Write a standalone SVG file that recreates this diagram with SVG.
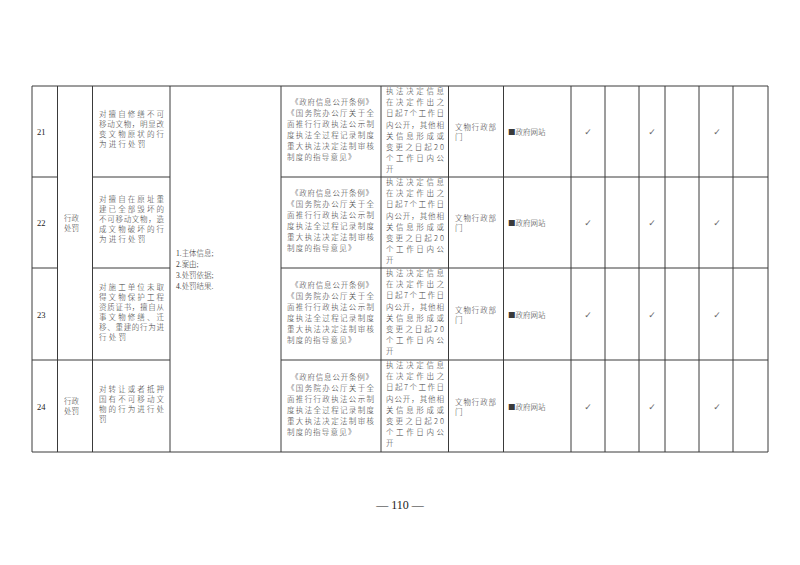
<svg xmlns="http://www.w3.org/2000/svg" width="800" height="565" viewBox="0 0 800 565">
<style>
.bg{fill:#ffffff}
.grid line{stroke:#3a3a3a;stroke-width:1}
.t{font-family:"Liberation Serif","Noto Sans CJK SC",serif;font-size:7.5px;fill:#3a3a3a;font-weight:300}
.c{font-family:"Noto Sans CJK SC","Liberation Serif",sans-serif;font-size:7.5px;fill:#3a3a3a;font-weight:300}
.n{font-family:"Liberation Serif","Noto Sans CJK SC",serif;font-size:8.5px;fill:#222}
.k{font-family:"DejaVu Sans","Noto Sans CJK SC",sans-serif;font-size:9px;fill:#666}
.pg{font-family:"Liberation Serif","Noto Sans CJK SC",serif;font-size:12px;fill:#222}
</style>
<rect class="bg" x="0" y="0" width="800" height="565"/>

<g id="grid" class="grid">
  <line x1="32" y1="86" x2="768" y2="86"/>
  <line x1="32" y1="177" x2="57.5" y2="177"/>
  <line x1="92.5" y1="177" x2="170" y2="177"/>
  <line x1="281" y1="177" x2="768" y2="177"/>
  <line x1="32" y1="268" x2="57.5" y2="268"/>
  <line x1="92.5" y1="268" x2="170" y2="268"/>
  <line x1="281" y1="268" x2="768" y2="268"/>
  <line x1="32" y1="360" x2="170" y2="360"/>
  <line x1="281" y1="360" x2="768" y2="360"/>
  <line x1="32" y1="452" x2="768" y2="452"/>
  <line x1="32" y1="86" x2="32" y2="452"/>
  <line x1="57.5" y1="86" x2="57.5" y2="452"/>
  <line x1="92.5" y1="86" x2="92.5" y2="452"/>
  <line x1="170" y1="86" x2="170" y2="452"/>
  <line x1="281" y1="86" x2="281" y2="452"/>
  <line x1="381" y1="86" x2="381" y2="452"/>
  <line x1="448.5" y1="86" x2="448.5" y2="452"/>
  <line x1="503.5" y1="86" x2="503.5" y2="452"/>
  <line x1="571" y1="86" x2="571" y2="452"/>
  <line x1="605" y1="86" x2="605" y2="452"/>
  <line x1="639" y1="86" x2="639" y2="452"/>
  <line x1="665" y1="86" x2="665" y2="452"/>
  <line x1="699" y1="86" x2="699" y2="452"/>
  <line x1="733" y1="86" x2="733" y2="452"/>
  <line x1="768" y1="86" x2="768" y2="452"/>
</g>

<g id="merged">
  <text class="c" x="64" y="221">行政</text>
  <text class="c" x="64" y="231">处罚</text>
  <text class="t" x="176" y="256">1.主体信息;</text>
  <text class="t" x="176" y="267">2.案由;</text>
  <text class="t" x="176" y="278">3.处罚依据;</text>
  <text class="t" x="176" y="289">4.处罚结果.</text>
</g>

<g id="row21">
  <text class="n" x="37" y="135">21</text>
  <text class="c" x="99" y="117" textLength="65" lengthAdjust="spacing">对擅自修缮不可</text>
  <text class="c" x="99" y="127" textLength="65" lengthAdjust="spacing">移动文物，明显改</text>
  <text class="c" x="99" y="137" textLength="65" lengthAdjust="spacing">变文物原状的行</text>
  <text class="c" x="99" y="147" letter-spacing="2.2">为进行处罚</text>
  <text class="c" x="291" y="105" textLength="82" lengthAdjust="spacing">《政府信息公开条例》</text>
  <text class="c" x="287" y="116" textLength="87" lengthAdjust="spacing">《国务院办公厅关于全</text>
  <text class="c" x="287" y="127" textLength="87" lengthAdjust="spacing">面推行行政执法公示制</text>
  <text class="c" x="287" y="138" textLength="87" lengthAdjust="spacing">度执法全过程记录制度</text>
  <text class="c" x="287" y="149" textLength="87" lengthAdjust="spacing">重大执法决定法制审核</text>
  <text class="c" x="287" y="160" letter-spacing="1.2">制度的指导意见》</text>
  <text class="c" x="386" y="94" textLength="58" lengthAdjust="spacing">执法决定信息</text>
  <text class="c" x="386" y="105.2" textLength="58" lengthAdjust="spacing">在决定作出之</text>
  <text class="c" x="386" y="116.4" textLength="58" lengthAdjust="spacing">日起7个工作日</text>
  <text class="c" x="386" y="127.6" textLength="58" lengthAdjust="spacing">内公开，其他相</text>
  <text class="c" x="386" y="138.8" textLength="58" lengthAdjust="spacing">关信息形成或</text>
  <text class="c" x="386" y="150" textLength="58" lengthAdjust="spacing">变更之日起20</text>
  <text class="c" x="386" y="161.2" textLength="58" lengthAdjust="spacing">个工作日内公</text>
  <text class="c" x="386" y="172.4">开</text>
  <text class="c" x="455" y="130" textLength="41" lengthAdjust="spacing">文物行政部</text>
  <text class="c" x="455" y="140">门</text>
  <text class="c" x="508" y="135">■政府网站</text>
  <text class="k" x="588" y="135" text-anchor="middle">✓</text>
  <text class="k" x="652" y="135" text-anchor="middle">✓</text>
  <text class="k" x="717" y="135" text-anchor="middle">✓</text>
</g>

<g id="row22">
  <text class="n" x="37" y="226">22</text>
  <text class="c" x="99" y="202" textLength="65" lengthAdjust="spacing">对擅自在原址重</text>
  <text class="c" x="99" y="212" textLength="65" lengthAdjust="spacing">建已全部毁坏的</text>
  <text class="c" x="99" y="222" textLength="65" lengthAdjust="spacing">不可移动文物，造</text>
  <text class="c" x="99" y="232" textLength="65" lengthAdjust="spacing">成文物破坏的行</text>
  <text class="c" x="99" y="242" letter-spacing="2.2">为进行处罚</text>
  <text class="c" x="291" y="196" textLength="82" lengthAdjust="spacing">《政府信息公开条例》</text>
  <text class="c" x="287" y="207" textLength="87" lengthAdjust="spacing">《国务院办公厅关于全</text>
  <text class="c" x="287" y="218" textLength="87" lengthAdjust="spacing">面推行行政执法公示制</text>
  <text class="c" x="287" y="229" textLength="87" lengthAdjust="spacing">度执法全过程记录制度</text>
  <text class="c" x="287" y="240" textLength="87" lengthAdjust="spacing">重大执法决定法制审核</text>
  <text class="c" x="287" y="251" letter-spacing="1.2">制度的指导意见》</text>
  <text class="c" x="386" y="185" textLength="58" lengthAdjust="spacing">执法决定信息</text>
  <text class="c" x="386" y="196.2" textLength="58" lengthAdjust="spacing">在决定作出之</text>
  <text class="c" x="386" y="207.4" textLength="58" lengthAdjust="spacing">日起7个工作日</text>
  <text class="c" x="386" y="218.6" textLength="58" lengthAdjust="spacing">内公开，其他相</text>
  <text class="c" x="386" y="229.8" textLength="58" lengthAdjust="spacing">关信息形成或</text>
  <text class="c" x="386" y="241" textLength="58" lengthAdjust="spacing">变更之日起20</text>
  <text class="c" x="386" y="252.2" textLength="58" lengthAdjust="spacing">个工作日内公</text>
  <text class="c" x="386" y="263.4">开</text>
  <text class="c" x="455" y="221" textLength="41" lengthAdjust="spacing">文物行政部</text>
  <text class="c" x="455" y="231">门</text>
  <text class="c" x="508" y="226">■政府网站</text>
  <text class="k" x="588" y="226" text-anchor="middle">✓</text>
  <text class="k" x="652" y="226" text-anchor="middle">✓</text>
  <text class="k" x="717" y="226" text-anchor="middle">✓</text>
</g>

<g id="row23">
  <text class="n" x="37" y="318">23</text>
  <text class="c" x="99" y="289.5" textLength="65" lengthAdjust="spacing">对施工单位未取</text>
  <text class="c" x="99" y="299.5" textLength="65" lengthAdjust="spacing">得文物保护工程</text>
  <text class="c" x="99" y="309.5" textLength="65" lengthAdjust="spacing">资质证书，擅自从</text>
  <text class="c" x="99" y="319.5" textLength="65" lengthAdjust="spacing">事文物修缮、迁</text>
  <text class="c" x="99" y="329.5" textLength="65" lengthAdjust="spacing">移、重建的行为进</text>
  <text class="c" x="99" y="339.5" letter-spacing="2.2">行处罚</text>
  <text class="c" x="291" y="288" textLength="82" lengthAdjust="spacing">《政府信息公开条例》</text>
  <text class="c" x="287" y="299" textLength="87" lengthAdjust="spacing">《国务院办公厅关于全</text>
  <text class="c" x="287" y="310" textLength="87" lengthAdjust="spacing">面推行行政执法公示制</text>
  <text class="c" x="287" y="321" textLength="87" lengthAdjust="spacing">度执法全过程记录制度</text>
  <text class="c" x="287" y="332" textLength="87" lengthAdjust="spacing">重大执法决定法制审核</text>
  <text class="c" x="287" y="343" letter-spacing="1.2">制度的指导意见》</text>
  <text class="c" x="386" y="276" textLength="58" lengthAdjust="spacing">执法决定信息</text>
  <text class="c" x="386" y="287.2" textLength="58" lengthAdjust="spacing">在决定作出之</text>
  <text class="c" x="386" y="298.4" textLength="58" lengthAdjust="spacing">日起7个工作日</text>
  <text class="c" x="386" y="309.6" textLength="58" lengthAdjust="spacing">内公开，其他相</text>
  <text class="c" x="386" y="320.8" textLength="58" lengthAdjust="spacing">关信息形成或</text>
  <text class="c" x="386" y="332" textLength="58" lengthAdjust="spacing">变更之日起20</text>
  <text class="c" x="386" y="343.2" textLength="58" lengthAdjust="spacing">个工作日内公</text>
  <text class="c" x="386" y="354.4">开</text>
  <text class="c" x="455" y="313" textLength="41" lengthAdjust="spacing">文物行政部</text>
  <text class="c" x="455" y="323">门</text>
  <text class="c" x="508" y="318">■政府网站</text>
  <text class="k" x="588" y="318" text-anchor="middle">✓</text>
  <text class="k" x="652" y="318" text-anchor="middle">✓</text>
  <text class="k" x="717" y="318" text-anchor="middle">✓</text>
</g>

<g id="row24">
  <text class="n" x="37" y="410">24</text>
  <text class="c" x="64" y="404">行政</text>
  <text class="c" x="64" y="414">处罚</text>
  <text class="c" x="99" y="391.5" textLength="65" lengthAdjust="spacing">对转让或者抵押</text>
  <text class="c" x="99" y="401.5" textLength="65" lengthAdjust="spacing">国有不可移动文</text>
  <text class="c" x="99" y="411.5" textLength="65" lengthAdjust="spacing">物的行为进行处</text>
  <text class="c" x="99" y="421.5">罚</text>
  <text class="c" x="291" y="380" textLength="82" lengthAdjust="spacing">《政府信息公开条例》</text>
  <text class="c" x="287" y="391" textLength="87" lengthAdjust="spacing">《国务院办公厅关于全</text>
  <text class="c" x="287" y="402" textLength="87" lengthAdjust="spacing">面推行行政执法公示制</text>
  <text class="c" x="287" y="413" textLength="87" lengthAdjust="spacing">度执法全过程记录制度</text>
  <text class="c" x="287" y="424" textLength="87" lengthAdjust="spacing">重大执法决定法制审核</text>
  <text class="c" x="287" y="435" letter-spacing="1.2">制度的指导意见》</text>
  <text class="c" x="386" y="368" textLength="58" lengthAdjust="spacing">执法决定信息</text>
  <text class="c" x="386" y="379.2" textLength="58" lengthAdjust="spacing">在决定作出之</text>
  <text class="c" x="386" y="390.4" textLength="58" lengthAdjust="spacing">日起7个工作日</text>
  <text class="c" x="386" y="401.6" textLength="58" lengthAdjust="spacing">内公开，其他相</text>
  <text class="c" x="386" y="412.8" textLength="58" lengthAdjust="spacing">关信息形成或</text>
  <text class="c" x="386" y="424" textLength="58" lengthAdjust="spacing">变更之日起20</text>
  <text class="c" x="386" y="435.2" textLength="58" lengthAdjust="spacing">个工作日内公</text>
  <text class="c" x="386" y="446.4">开</text>
  <text class="c" x="455" y="405" textLength="41" lengthAdjust="spacing">文物行政部</text>
  <text class="c" x="455" y="415">门</text>
  <text class="c" x="508" y="410">■政府网站</text>
  <text class="k" x="588" y="410" text-anchor="middle">✓</text>
  <text class="k" x="652" y="410" text-anchor="middle">✓</text>
  <text class="k" x="717" y="410" text-anchor="middle">✓</text>
</g>

<g id="page">
  <text class="pg" x="400" y="509" text-anchor="middle">— 110 —</text>
</g>
</svg>
